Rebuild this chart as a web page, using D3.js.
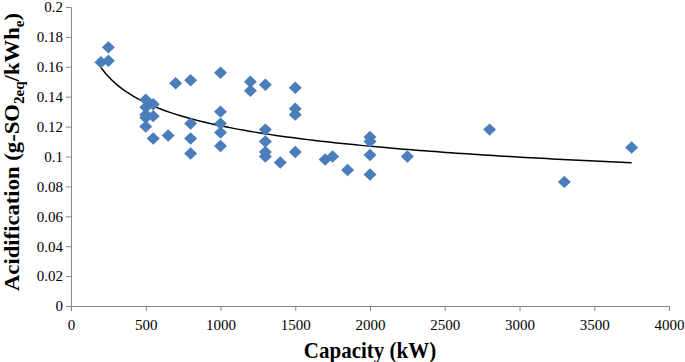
<!DOCTYPE html>
<html>
<head>
<meta charset="utf-8">
<script src="https://cdn.jsdelivr.net/npm/d3@7"></script>
</head>
<body style="margin:0">
<div id="chart"></div>
<script>
// capacity (kW) and acidification (g-SO2eq/kWhe)
const capacity = [200, 250, 250, 500, 500, 500, 500, 500, 550, 550, 550, 650, 700,
    800, 800, 800, 800, 1000, 1000, 1000, 1000, 1000, 1200, 1200,
    1300, 1300, 1300, 1300, 1300, 1400, 1500, 1500, 1500, 1500,
    1700, 1750, 1850, 2000, 2000, 2000, 2000, 2250, 2800, 3300, 3750];
const acidification = [0.163, 0.173, 0.164, 0.138, 0.133, 0.128, 0.126, 0.120, 0.135, 0.127, 0.112, 0.114, 0.149,
    0.151, 0.122, 0.112, 0.102, 0.156, 0.130, 0.122, 0.116, 0.107, 0.150, 0.144,
    0.148, 0.118, 0.110, 0.103, 0.100, 0.096, 0.146, 0.132, 0.128, 0.103,
    0.098, 0.100, 0.091, 0.113, 0.110, 0.101, 0.088, 0.100, 0.118, 0.083, 0.106];
const xTicks = [0, 500, 1000, 1500, 2000, 2500, 3000, 3500, 4000];
const yTicks = [0, 0.02, 0.04, 0.06, 0.08, 0.1, 0.12, 0.14, 0.16, 0.18, 0.2];

const points = capacity.map((v, i) => ({x: v, y: acidification[i]}));

const width = 685, height = 362;
const margin = {top: 7, right: 16, bottom: 56, left: 71};
const fontName = "Liberation Serif";

const svg = d3.select("#chart").append("svg")
    .attr("width", width)
    .attr("height", height);

const x = d3.scaleLinear().domain([0, 4000]).range([margin.left, width - margin.right]);
const y = d3.scaleLinear().domain([0, 0.2]).range([height - margin.bottom, margin.top]);

const axisColor = "#868686";

const gx = svg.append("g")
    .attr("transform", "translate(0," + y(0) + ")")
    .call(d3.axisBottom(x).tickValues(xTicks).tickSize(5).tickPadding(8).tickFormat(d3.format("d")));
const gy = svg.append("g")
    .attr("transform", "translate(" + x(0) + ",0)")
    .call(d3.axisLeft(y).tickValues(yTicks).tickSize(5).tickPadding(3).tickFormat(d3.format("~g")));

[gx, gy].forEach(g => {
    g.attr("font-family", null).attr("font-size", null);
    g.selectAll("path, line").attr("stroke", axisColor);
    g.selectAll("text")
        .attr("fill", "#000")
        .attr("font-family", fontName)
        .attr("font-size", 15);
});

// power trendline, least squares on log-log like Excel does
const lx = points.map(d => Math.log(d.x)), ly = points.map(d => Math.log(d.y));
const mx = d3.mean(lx), my = d3.mean(ly);
const k = d3.sum(lx, (v, i) => (v - mx) * (ly[i] - my)) / d3.sum(lx, v => (v - mx) * (v - mx));
const a = Math.exp(my - k * mx);
const xMin = d3.min(capacity), xMax = d3.max(capacity);
const trend = d3.range(0, 101).map(i => {
    const xv = xMin + (xMax - xMin) * i / 100;
    return [xv, a * Math.pow(xv, k)];
});

svg.append("path")
    .datum(trend)
    .attr("fill", "none")
    .attr("stroke", "#000")
    .attr("stroke-width", 1.5)
    .attr("d", d3.line().x(d => x(d[0])).y(d => y(d[1])));

svg.selectAll(".pt")
    .data(points)
    .enter().append("path")
    .attr("class", "pt")
    .attr("transform", d => "translate(" + x(d.x) + "," + y(d.y) + ")")
    .attr("d", "M0,-6.2L6.5,0L0,6.2L-6.5,0Z")
    .attr("fill", "#4a7ebb");

// axis titles, the source figure is a bit stretched vertically
svg.append("text")
    .attr("transform", "translate(" + ((x(0) + x(4000)) / 2) + ",358) scale(1,1.12)")
    .attr("text-anchor", "middle")
    .attr("font-family", fontName)
    .attr("font-size", 21)
    .attr("font-weight", "bold")
    .text("Capacity (kW)");

const yt = svg.append("text")
    .attr("transform", "translate(19,152) rotate(-90) scale(1.08,1)")
    .attr("text-anchor", "middle")
    .attr("font-family", fontName)
    .attr("font-size", 21)
    .attr("font-weight", "bold");
yt.append("tspan").text("Acidification (g-SO");
yt.append("tspan").attr("dy", 5).attr("font-size", 14).text("2eq");
yt.append("tspan").attr("dy", -5).text("/kWh");
yt.append("tspan").attr("dy", 5).attr("font-size", 14).text("e");
yt.append("tspan").attr("dy", -5).text(")");
</script>
</body>
</html>
